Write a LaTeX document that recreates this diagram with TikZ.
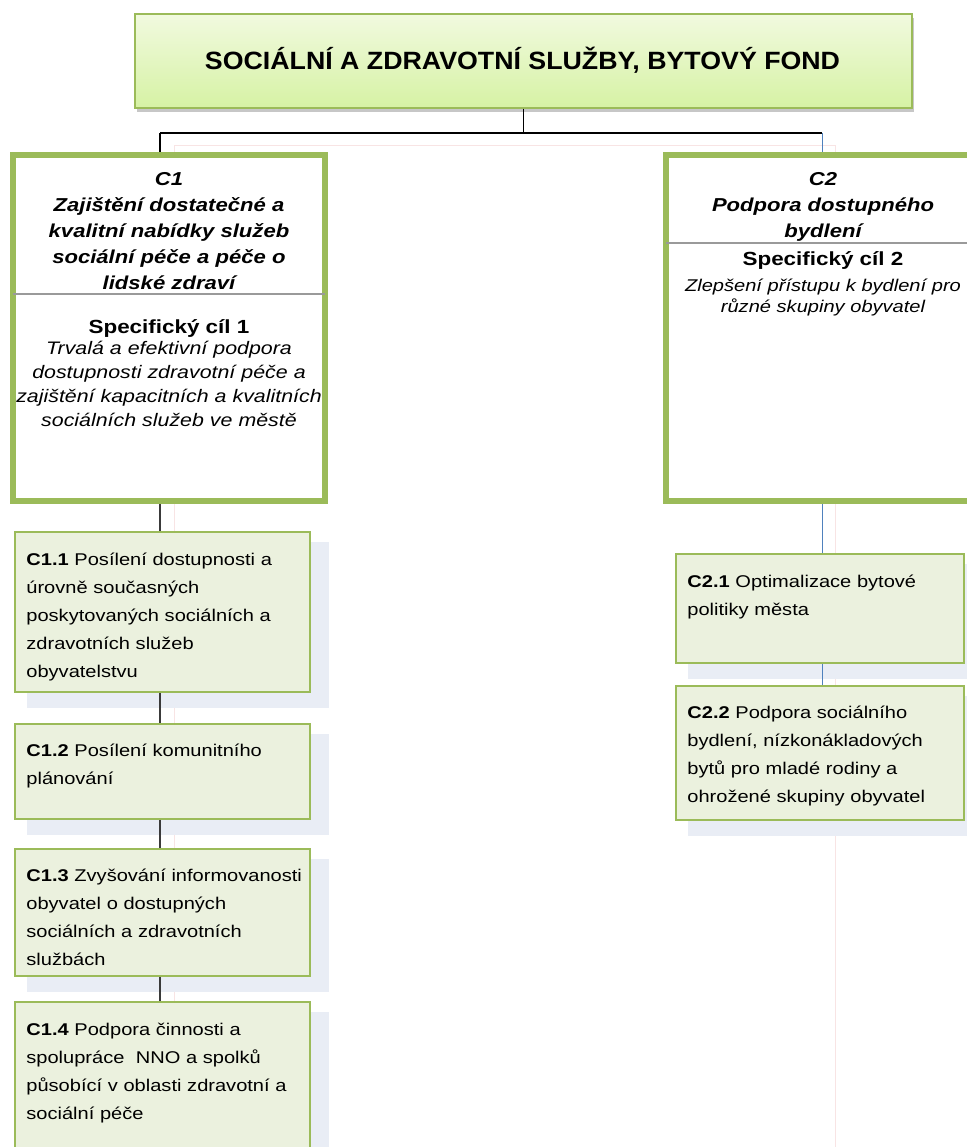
\documentclass[tikz,border=0pt]{standalone}
\usepackage{fontspec}
\setmainfont[FakeStretch=1.18]{Liberation Sans}
\newfontfamily\titlefont[FakeStretch=1.07]{Liberation Sans}
\usetikzlibrary{shadows,backgrounds,calc}
\definecolor{grn}{HTML}{9BBB59}
\definecolor{boxfill}{HTML}{EBF1DE}
\definecolor{shad}{HTML}{E9EDF5}
\definecolor{topA}{HTML}{F1FADF}
\definecolor{topB}{HTML}{D6F2A4}
\definecolor{lnk}{HTML}{4F81BD}
\definecolor{divg}{HTML}{9A9A9A}
\definecolor{pinkf}{HTML}{F8E4E4}
\definecolor{chain}{HTML}{3A3A3A}
\begin{document}
\begin{tikzpicture}[x=1pt,y=-1pt,
  topbox/.style={draw=grn, line width=1.5pt, top color=topA, bottom color=topB, inner sep=0pt,
    drop shadow={shadow xshift=2pt, shadow yshift=-4pt, fill=black, opacity=0.22}},
  bigbox/.style={draw=grn, line width=6pt, fill=white, inner sep=0pt},
  leaf/.style={draw=grn, line width=1.6pt, fill=boxfill, inner sep=0pt, minimum width=295pt},
  leafR/.style={leaf, minimum width=288pt},
  titletext/.style={inner sep=0pt, anchor=base, font=\titlefont\fontsize{25pt}{28pt}\selectfont\bfseries},
  hdr/.style={inner sep=0pt, anchor=base, align=center, text width=400pt, font=\fontsize{18.7pt}{25.8pt}\selectfont\bfseries\itshape},
  spec/.style={inner sep=0pt, anchor=base, font=\fontsize{19pt}{22pt}\selectfont\bfseries},
  desc/.style={inner sep=0pt, anchor=base, align=center, text width=400pt, font=\fontsize{18.1pt}{24pt}\selectfont\itshape},
  leaftext/.style={inner sep=0pt, anchor=base west, align=left, text width=400pt, font=\fontsize{17pt}{28pt}\selectfont},
  bus/.style={draw=black, line width=1.5pt},
  lchain/.style={draw=chain, line width=1.5pt},
  rchain/.style={draw=lnk, line width=1pt}
]
\useasboundingbox (0,0) rectangle (966,1147);

% top box
\node[topbox, minimum width=777pt, minimum height=94pt] (top) at (523.5,61) {};
\node[titletext] (title) at (522.5,70) {SOCIÁLNÍ A ZDRAVOTNÍ SLUŽBY, BYTOVÝ FOND};

% goal boxes
\node[bigbox, minimum width=312pt, minimum height=346pt] (c1) at (169,328) {};
\node[bigbox, minimum width=314pt, minimum height=346pt] (c2) at (823,328) {};
\draw[divg, line width=1.8pt] ($(c1.north west)+(3,142)$) -- ($(c1.north east)+(-3,142)$);
\draw[divg, line width=1.2pt] ($(c2.north west)+(3,91)$) -- ($(c2.north east)+(-3,91)$);

\node[hdr] (c1h) at (169,186) {C1\\Zajištění dostatečné a\\kvalitní nabídky služeb\\sociální péče a péče o\\lidské zdraví};
\node[spec] (c1s) at (169,333) {Specifický cíl 1};
\node[desc] (c1d) at (169,354) {Trvalá a efektivní podpora\\dostupnosti zdravotní péče a\\zajištění kapacitních a kvalitních\\sociálních služeb ve městě};

\node[hdr] (c2h) at (823,186) {C2\\Podpora dostupného\\bydlení};
\node[spec] (c2s) at (823,266) {Specifický cíl 2};
\node[desc, font=\fontsize{17pt}{21pt}\selectfont\itshape] (c2d) at (823,291) {Zlepšení přístupu k bydlení pro\\různé skupiny obyvatel};

% measure boxes
\node[leaf, minimum height=160pt] (c11) at (162.5,612) {};
\node[leaf, minimum height=95pt] (c12) at (162.5,771.5) {};
\node[leaf, minimum height=127pt] (c13) at (162.5,912.5) {};
\node[leaf, minimum height=160pt] (c14) at (162.5,1082) {};
\node[leafR, minimum height=109pt] (c21) at (820,608.5) {};
\node[leafR, minimum height=134pt] (c22) at (820,753) {};

\node[leaftext] (t11) at ($(c11.north west)+(12,34)$) {\textbf{C1.1} Posílení dostupnosti a\\úrovně současných\\poskytovaných sociálních a\\zdravotních služeb\\obyvatelstvu};
\node[leaftext] (t12) at ($(c12.north west)+(12,33)$) {\textbf{C1.2} Posílení komunitního\\plánování};
\node[leaftext] (t13) at ($(c13.north west)+(12,33)$) {\textbf{C1.3} Zvyšování informovanosti\\obyvatel o dostupných\\sociálních a zdravotních\\službách};
\node[leaftext] (t14) at ($(c14.north west)+(12,34)$) {\textbf{C1.4} Podpora činnosti a\\spolupráce\ \ NNO a spolků\\působící v oblasti zdravotní a\\sociální péče};
\node[leaftext] (t21) at ($(c21.north west)+(12,34)$) {\textbf{C2.1} Optimalizace bytové\\politiky města};
\node[leaftext] (t22) at ($(c22.north west)+(12,33)$) {\textbf{C2.2} Podpora sociálního\\bydlení, nízkonákladových\\bytů pro mladé rodiny a\\ohrožené skupiny obyvatel};

% connectors
\coordinate (lx) at (160,133);
\coordinate (rx) at (822,133);
\draw[bus] (top.south) -- (top.south |- lx);
\draw[bus] (lx) -- (rx);
\draw[bus] (lx) -- (lx |- c1.north);
\draw[rchain] (rx) -- (rx |- c2.north);
\draw[lchain] (lx |- c1.south) -- (lx |- c11.north);
\draw[lchain] (lx |- c11.south) -- (lx |- c12.north);
\draw[lchain] (lx |- c12.south) -- (lx |- c13.north);
\draw[lchain] (lx |- c13.south) -- (lx |- c14.north);
\draw[rchain] (rx |- c2.south) -- (rx |- c21.north);
\draw[rchain] (rx |- c21.south) -- (rx |- c22.north);

% background: faint frame and shadows
\begin{scope}[on background layer]
  \draw[pinkf, line width=1pt] (174,146) rectangle (835,1200);
  \foreach \b in {c11,c12,c13,c14,c21,c22}{
    \fill[shad] ($(\b.north west)+(13,11)$) rectangle ($(\b.south east)+(18,15)$);
  }
\end{scope}
\end{tikzpicture}
\end{document}
